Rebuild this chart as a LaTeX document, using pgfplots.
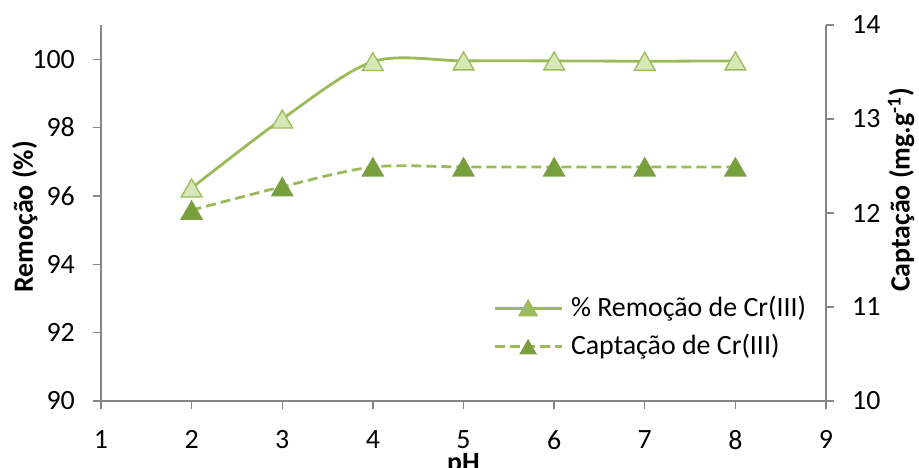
\documentclass[border=0pt]{standalone}
\usepackage{pgfplots}
\pgfplotsset{compat=1.18}
\usepackage{fontspec}
\setmainfont{Carlito}
\definecolor{xlgreen}{HTML}{9BBB59}
\definecolor{lightfill}{HTML}{D7E8B8}
\definecolor{darkfill}{HTML}{77A03C}
\definecolor{darkedge}{HTML}{7D9F45}
\definecolor{axgray}{HTML}{868686}
\begin{document}
\fontsize{28}{34}\selectfont
\begin{tikzpicture}
\useasboundingbox (-101bp,-67bp) rectangle (818bp,401bp);
\pgfplotsset{
  common/.style={
    at={(0,0)}, anchor=south west,
    scale only axis, width=725bp, height=376bp,
    xmin=1, xmax=9,
    /pgf/number format/assume math mode=true,
    tick style={axgray, line width=1.3bp},
    axis line style={axgray, line width=1.3bp, -},
    major tick length=8bp,
    tick align=outside,
    clip=false,
    xticklabel style={inner sep=0pt, anchor=north},
    yticklabel style={inner sep=0pt},
    xticklabel shift=21bp,
    yticklabel shift=18bp,
  },
  s1/.style={xlgreen, line width=2.8bp, smooth, tension=0.5, mark=triangle*, mark size=12bp,
    mark options={solid, fill=lightfill, draw=xlgreen, line width=1.3bp, yshift=-3bp}},
  s2/.style={xlgreen, line width=2.8bp, smooth, tension=0.5, dash pattern=on 10bp off 5bp, mark=triangle*, mark size=12bp,
    mark options={solid, fill=darkfill, draw=darkedge, line width=1.3bp, yshift=-3bp}},
}
\begin{axis}[common,
  axis x line*=bottom, axis y line*=left,
  ymin=90, ymax=101, ytick={90,92,...,100},
  xtick={1,...,9},
  xlabel={\textbf{pH}},
  ylabel={\textbf{Remoção (\%)}},
  every axis y label/.style={at={(axis description cs:-0.105,0.49)}, rotate=90, anchor=center},
  every axis x label/.style={at={(axis description cs:0.5,-0.138)}, anchor=north, inner sep=0pt},
]
\addplot[s1] coordinates {(2,96.23)(3,98.25)(4,99.93)(5,99.95)(6,99.95)(7,99.94)(8,99.95)};
\end{axis}
\begin{axis}[common,
  axis x line=none, axis y line*=right,
  ymin=10, ymax=14, ytick={10,...,14},
  ylabel={\textbf{Captação (mg.g\textsuperscript{-1})}},
  every axis y label/.style={at={(axis description cs:1.1035,0.561)}, rotate=90, anchor=center},
  legend style={at={(axis description cs:0.5407,0.279)}, anchor=north west, draw=none, fill=none, inner sep=0pt, row sep=13bp, column sep=8bp, nodes={inner sep=0pt}},
  legend cell align=left,
  legend image code/.code={\draw[mark repeat=2,mark phase=2,mark size=9bp,#1] plot coordinates {(0bp,0bp) (33.5bp,0bp) (67bp,0bp)};},
]
\addlegendimage{s1, sharp plot, mark size=9bp, mark options={yshift=-2bp}}
\addlegendentry{\% Remoção de Cr(III)}
\addplot[s2] coordinates {(2,12.03)(3,12.28)(4,12.49)(5,12.49)(6,12.49)(7,12.49)(8,12.49)};
\addlegendentry{Captação de Cr(III)}
\end{axis}
\end{tikzpicture}
\end{document}
